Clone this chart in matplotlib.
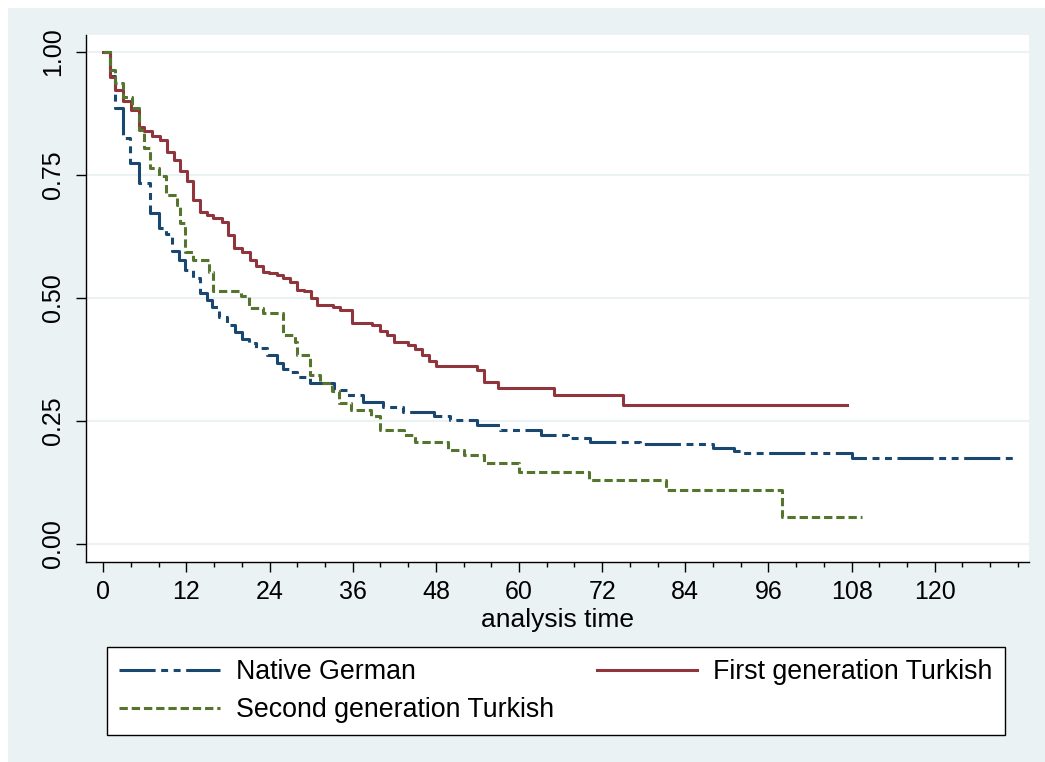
import matplotlib
matplotlib.use("Agg")
import matplotlib.pyplot as plt
from matplotlib.patches import Rectangle

# Kaplan-Meier survival estimates
native_t = [0, 1, 1.7, 2.9, 3.9, 5.1, 6.8, 8, 9, 9.9, 10.9, 11.8, 13, 14, 14.9, 15.7,
            16.7, 17.8, 19, 20, 21, 22.1, 23.6, 25, 26, 27, 28, 29.9, 33.3, 35.2,
            37.5, 40.4, 43.3, 47.7, 50, 54, 57.3, 63.1, 67, 70.3, 77.5, 88, 91, 92,
            108.1, 131.4]
native_s = [1.0, 0.95, 0.886, 0.825, 0.774, 0.734, 0.672, 0.642, 0.63, 0.596, 0.577,
            0.557, 0.54, 0.51, 0.496, 0.482, 0.462, 0.445, 0.431, 0.417, 0.408, 0.398,
            0.384, 0.368, 0.356, 0.35, 0.34, 0.327, 0.313, 0.303, 0.289, 0.279, 0.269,
            0.259, 0.252, 0.242, 0.232, 0.222, 0.215, 0.208, 0.203, 0.195, 0.188,
            0.184, 0.174, 0.174]

first_t = [0, 1, 1.7, 2.9, 4, 5.1, 5.8, 7, 8.2, 9.2, 10.2, 11, 12.1, 13, 13.9, 14.9,
           15.9, 17.1, 18, 18.9, 20, 21.1, 22.1, 23.1, 23.9, 25, 26, 27, 28, 28.9, 30,
           30.9, 33.2, 34.1, 35.9, 38.8, 40, 41, 41.9, 44, 45, 46, 47, 48, 54, 55, 57,
           65, 75, 107.3]
first_s = [1.0, 0.949, 0.923, 0.899, 0.882, 0.848, 0.838, 0.828, 0.821, 0.797, 0.78,
           0.757, 0.737, 0.699, 0.675, 0.669, 0.662, 0.655, 0.628, 0.601, 0.594, 0.577,
           0.564, 0.553, 0.55, 0.547, 0.54, 0.533, 0.516, 0.513, 0.499, 0.486, 0.482,
           0.476, 0.449, 0.445, 0.432, 0.425, 0.411, 0.404, 0.396, 0.384, 0.372, 0.362,
           0.354, 0.33, 0.316, 0.303, 0.283, 0.283]

second_t = [0, 1, 1.7, 2.9, 4.1, 5.1, 5.8, 6.8, 8, 9, 10.6, 11.1, 11.8, 13, 15.2, 15.9,
            19.8, 21, 23.1, 26, 27.7, 28, 29.9, 31.3, 33, 34, 35.7, 38.6, 40, 43.4, 45,
            49.8, 52, 55, 60, 70.1, 81.2, 98, 109.5]
second_s = [1.0, 0.963, 0.937, 0.909, 0.886, 0.841, 0.804, 0.764, 0.747, 0.709, 0.689,
            0.653, 0.594, 0.577, 0.553, 0.513, 0.503, 0.479, 0.469, 0.425, 0.411, 0.384,
            0.343, 0.327, 0.31, 0.286, 0.272, 0.259, 0.232, 0.222, 0.208, 0.191, 0.181,
            0.164, 0.147, 0.13, 0.11, 0.054, 0.054]

labels = ["Native German", "First generation Turkish", "Second generation Turkish"]
x_ticks = list(range(0, 121, 12))
y_ticks = [0.0, 0.25, 0.5, 0.75, 1.0]

bg = "#eaf2f3"
navy = "#1a476f"
maroon = "#90353b"
green = "#55752f"

plt.rcParams["font.family"] = ["Liberation Sans", "DejaVu Sans"]
plt.rcParams["lines.scale_dashes"] = False

W, H = 1045, 762
fig = plt.figure(figsize=(W / 100, H / 100), dpi=100, facecolor="white")
fig.patches.append(Rectangle((8 / W, 0), 1 - 8 / W, 1 - 8 / H, transform=fig.transFigure,
                             facecolor=bg, edgecolor="none", zorder=-10))

ax = fig.add_axes([86 / W, 200 / H, 943 / W, 527 / H])
ax.set_facecolor("white")

l_native, = ax.step(native_t, native_s, where="post", color=navy, lw=2.2,
                    dashes=(26, 4, 5, 4, 5, 4))
l_first, = ax.step(first_t, first_s, where="post", color=maroon, lw=2.2)
l_second, = ax.step(second_t, second_s, where="post", color=green, lw=2.2,
                    dashes=(6, 2.8))

ax.set_xlim(-2.5, 133.6)
ax.set_ylim(-0.0366, 1.034)
ax.set_xticks(x_ticks)
ax.set_xticks(range(0, 133, 4), minor=True)
ax.set_yticks(y_ticks)
ax.set_yticklabels(["%.2f" % v for v in y_ticks], rotation=90, va="center")
ax.grid(axis="y", color=bg, lw=1.5)
ax.set_axisbelow(True)

for side in ["top", "right"]:
    ax.spines[side].set_visible(False)
for side in ["left", "bottom"]:
    ax.spines[side].set_linewidth(1.0)

ax.tick_params(axis="both", which="major", length=7, width=1, labelsize=18, pad=6)
ax.tick_params(axis="x", which="minor", length=3.6, width=1)
ax.tick_params(axis="y", pad=8)
ax.set_xlabel("analysis time", fontsize=19, labelpad=3)

leg = ax.legend([l_native, l_second, l_first],
                [labels[0], labels[2], labels[1]],
                ncol=2, loc="upper left", bbox_to_anchor=(107 / W, 1 - 647 / H),
                bbox_transform=fig.transFigure, borderaxespad=0, fontsize=19.3,
                frameon=True, fancybox=False, edgecolor="black", framealpha=1,
                handlelength=3.75, handletextpad=0.6, columnspacing=1.6,
                labelspacing=0.45, borderpad=0.45)
leg.get_frame().set_linewidth(1.0)

fig.savefig("out.png", dpi=100, facecolor=fig.get_facecolor())
